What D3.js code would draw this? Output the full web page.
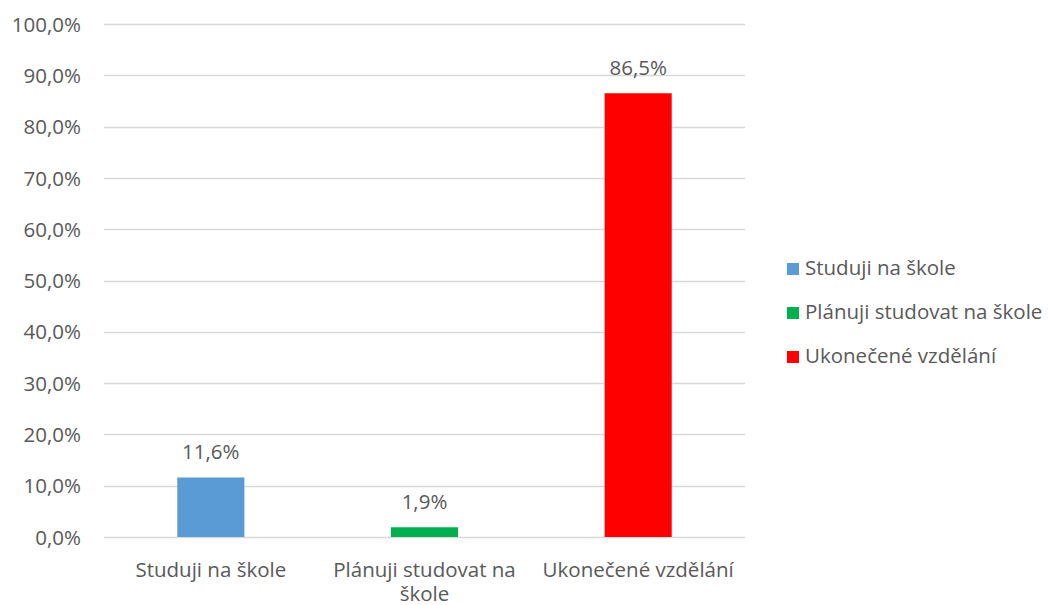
<!DOCTYPE html>
<html>
<head>
<meta charset="utf-8">
<script src="https://cdn.jsdelivr.net/npm/d3@7"></script>
<style>
  html, body { margin: 0; padding: 0; background: #fff; }
  svg { display: block; }
  text { font-family: "Open Sans", "Noto Sans", sans-serif; fill: #595959; }
</style>
</head>
<body>
<svg id="chart" width="1049" height="605"></svg>
<script>
const categories = ["Studuji na škole", "Plánuji studovat na škole", "Ukonečené vzdělání"];
const categoryLabelLines = [["Studuji na škole"], ["Plánuji studovat na", "škole"], ["Ukonečené vzdělání"]];
const values = [11.6, 1.9, 86.5];
const valueLabels = ["11,6%", "1,9%", "86,5%"];
const colors = ["#5B9BD5", "#00B050", "#FF0000"];
const yTicks = [0, 10, 20, 30, 40, 50, 60, 70, 80, 90, 100];
const yTickLabels = ["0,0%", "10,0%", "20,0%", "30,0%", "40,0%", "50,0%", "60,0%", "70,0%", "80,0%", "90,0%", "100,0%"];

const FS = "20.5px";
const svg = d3.select("#chart");
const plot = { left: 104, right: 745, top: 24, bottom: 537 };

const x = d3.scaleBand().domain(categories).range([plot.left, plot.right]).paddingInner(0.686).paddingOuter(0.343);
const y = d3.scaleLinear().domain([0, 100]).range([plot.bottom, plot.top]);

// gridlines
svg.append("g").selectAll("line").data(yTicks).join("line")
  .attr("x1", plot.left).attr("x2", plot.right)
  .attr("y1", d => Math.round(y(d)) + 0.5).attr("y2", d => Math.round(y(d)) + 0.5)
  .attr("stroke", "#D9D9D9").attr("stroke-width", 1.3);

// y-axis labels
const yAxis = d3.axisLeft(y).tickValues(yTicks).tickSize(0).tickPadding(0)
  .tickFormat((d, i) => yTickLabels[i]);
const yg = svg.append("g").attr("transform", `translate(81,0)`).call(yAxis);
yg.select(".domain").remove();
yg.selectAll("text").style("font-size", FS).attr("fill", "#595959")
  .attr("font-family", null).attr("dy", "0.35em");

// bars
svg.append("g").selectAll("rect").data(categories).join("rect")
  .attr("x", d => x(d)).attr("width", x.bandwidth())
  .attr("y", (d, i) => y(values[i])).attr("height", (d, i) => y(0) - y(values[i]))
  .attr("fill", (d, i) => colors[i]);

// value labels
svg.append("g").selectAll("text").data(categories).join("text")
  .attr("x", d => x(d) + x.bandwidth() / 2)
  .attr("y", (d, i) => y(values[i]) - 18)
  .attr("text-anchor", "middle").style("font-size", FS)
  .text((d, i) => valueLabels[i]);

// category labels
const cat = svg.append("g").selectAll("text").data(categories).join("text")
  .attr("x", d => x(d) + x.bandwidth() / 2)
  .attr("y", 577)
  .attr("text-anchor", "middle").style("font-size", FS);
cat.each(function(d, i) {
  const t = d3.select(this);
  categoryLabelLines[i].forEach((line, j) => {
    t.append("tspan").attr("x", x(d) + x.bandwidth() / 2).attr("y", 577 + j * 24).text(line);
  });
});

// legend
const legend = svg.append("g").selectAll("g").data(categories).join("g")
  .attr("transform", (d, i) => `translate(787, ${275 + i * 44})`);
legend.append("rect").attr("x", 0).attr("y", -12).attr("width", 12).attr("height", 12)
  .attr("fill", (d, i) => colors[i]);
legend.append("text").attr("x", 18).attr("y", 0).style("font-size", FS).text(d => d);
</script>
</body>
</html>
